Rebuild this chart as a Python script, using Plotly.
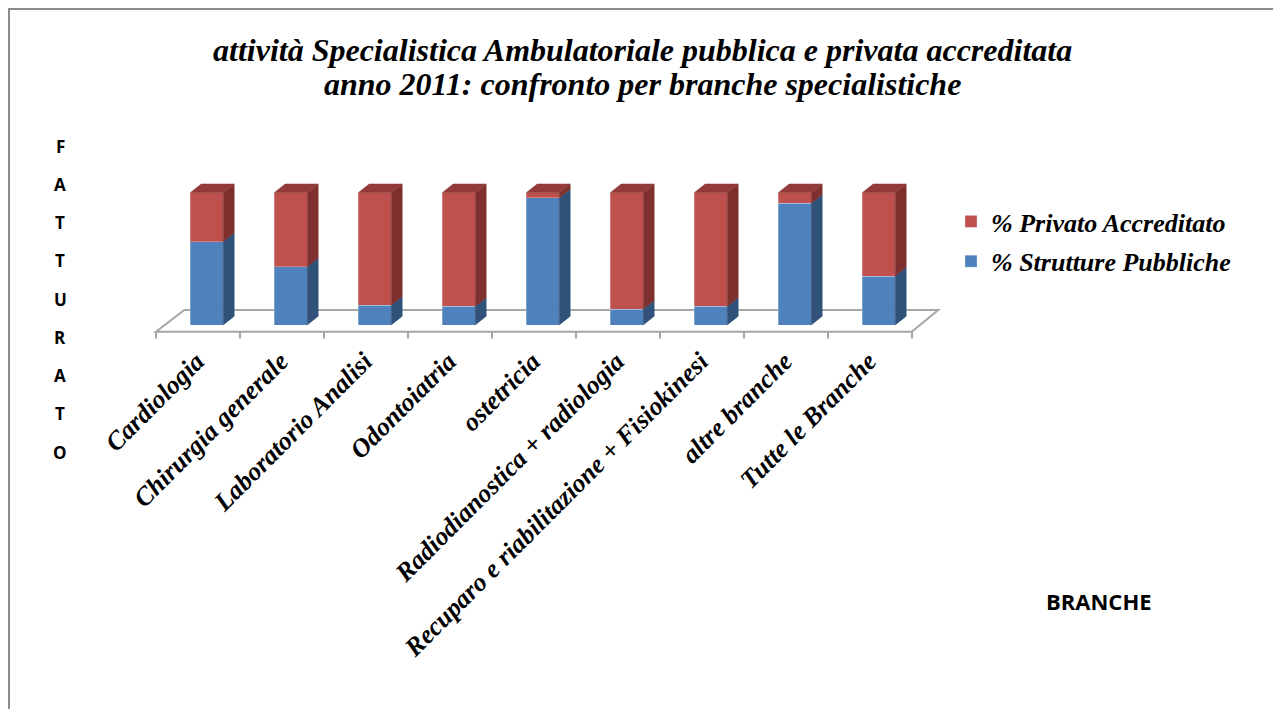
import plotly.graph_objects as go

categories = ["Cardiologia", "Chirurgia generale", "Laboratorio Analisi", "Odontoiatria",
              "ostetricia", "Radiodianostica + radiologia",
              "Recuparo e riabilitazione + Fisiokinesi", "altre branche", "Tutte le Branche"]
pubbliche = [63, 44, 15, 14, 96, 12, 14, 92, 37]
privato = [100 - v for v in pubbliche]
title_lines = ["attività Specialistica Ambulatoriale pubblica e privata accreditata",
               "anno 2011: confronto per branche specialistiche"]

OFF = 8                      # page body margin
W, H = 1281 - OFF, 709 - OFF
# plot area in reference-page pixels
L, R, T, B = 140, 960, 150, 340
X0 = 206.7   # pixel of category 0 centre
SX = 84.0    # px per category
Y0 = 325.0   # pixel of value 0
SY = 1.323   # px per percent

def xr(px):
    return (px - X0) / SX

def yr(py):
    return (Y0 - py) / SY

def px2paper(px):
    return (px - L) / (R - L)

def py2paper(py):
    return (B - py) / (B - T)

n = len(categories)
w = 0.393
dx, dy = 0.131, 6.6

BLUE, RED = "#4F81BD", "#C0504D"
BLUE_SIDE, RED_SIDE, RED_TOP = "#30527A", "#7E302E", "#923B38"

fig = go.Figure()
xs = list(range(n))
fig.add_trace(go.Bar(x=xs, y=pubbliche, name="% Strutture Pubbliche", width=w,
                     marker=dict(color=BLUE, line=dict(color="rgba(255,255,255,0.45)", width=0.6)),
                     legendgroup="a", legendrank=2))
fig.add_trace(go.Bar(x=xs, y=privato, name="% Privato Accreditato", width=w,
                     marker=dict(color=RED, line=dict(color="rgba(255,255,255,0.45)", width=0.6)),
                     legendgroup="b", legendrank=1))

def side_polys(bottoms, tops):
    px_, py_ = [], []
    for i in range(n):
        xe = i + w / 2
        b, t = bottoms[i], tops[i]
        px_ += [xe, xe + dx, xe + dx, xe, xe, None]
        py_ += [b, b + dy, t + dy, t, b, None]
    return px_, py_

bx, by = side_polys([0] * n, pubbliche)
fig.add_trace(go.Scatter(x=bx, y=by, fill="toself", fillcolor=BLUE_SIDE, mode="lines",
                         line=dict(width=0.5, color=BLUE_SIDE), showlegend=False, hoverinfo="skip"))
tops = [a + b for a, b in zip(pubbliche, privato)]
rx, ry = side_polys(pubbliche, tops)
fig.add_trace(go.Scatter(x=rx, y=ry, fill="toself", fillcolor=RED_SIDE, mode="lines",
                         line=dict(width=0.5, color=RED_SIDE), showlegend=False, hoverinfo="skip"))
tx, ty = [], []
for i in range(n):
    t = tops[i]
    tx += [i - w / 2, i - w / 2 + dx, i + w / 2 + dx, i + w / 2, i - w / 2, None]
    ty += [t, t + dy, t + dy, t, t, None]
fig.add_trace(go.Scatter(x=tx, y=ty, fill="toself", fillcolor=RED_TOP, mode="lines",
                         line=dict(width=0.5, color=RED_TOP), showlegend=False, hoverinfo="skip"))

# floor
fl, fr = xr(156), xr(911.7)
bl, br = xr(184.3), xr(938.3)
fy, by_ = yr(331.7), yr(310)
shapes = [dict(type="path", xref="x", yref="y", layer="below",
               path=f"M{fl},{fy} L{fr},{fy} L{br},{by_} L{bl},{by_} Z",
               line=dict(color="#A6A6A6", width=2), fillcolor="white")]
for k in range(n + 1):
    shapes.append(dict(type="line", xref="x", yref="y", layer="below",
                       x0=fl + k, x1=fl + k, y0=fy, y1=yr(338.5),
                       line=dict(color="#A6A6A6", width=2)))
# outer frame (as close to the page edge as the body margin allows)
shapes.append(dict(type="rect", xref="paper", yref="paper",
                   x0=px2paper(OFF + 1), x1=px2paper(1279), y0=py2paper(OFF + 1), y1=py2paper(760),
                   line=dict(color="#8C8C8C", width=2), fillcolor="rgba(0,0,0,0)"))

serif = "Liberation Serif"
annotations = []
for k, (txt, yc) in enumerate(zip(title_lines, [50, 84])):
    annotations.append(dict(text=txt, x=px2paper(642), y=py2paper(yc),
                            xref="paper", yref="paper", showarrow=False,
                            xanchor="center", yanchor="middle",
                            font=dict(family=serif, size=32, color="black",
                                      weight="bold", style="italic")))
for k, ch in enumerate("FATTURATO"):
    annotations.append(dict(text=ch, x=px2paper(60), y=py2paper(146 + 38.25 * k),
                            xref="paper", yref="paper", showarrow=False,
                            xanchor="center", yanchor="middle",
                            font=dict(family="Open Sans", size=17, color="black", weight="bold")))
annotations.append(dict(text="BRANCHE", x=px2paper(1099), y=py2paper(601),
                        xref="paper", yref="paper", showarrow=False,
                        xanchor="center", yanchor="middle",
                        font=dict(family="Open Sans", size=22, color="black", weight="bold")))

fig.update_layout(
    width=W, height=H,
    margin=dict(l=L - OFF, r=W - (R - OFF), t=T - OFF, b=H - (B - OFF)),
    barmode="stack",
    paper_bgcolor="white", plot_bgcolor="white",
    xaxis=dict(range=[xr(L), xr(R)], showgrid=False, zeroline=False, showline=False,
               tickmode="array", tickvals=[i - 0.12 for i in xs],
               ticktext=categories,
               tickangle=-45, ticks="",
               tickfont=dict(family=serif, size=26, color="black", weight="bold", style="italic")),
    yaxis=dict(range=[yr(B), yr(T)], showgrid=False, zeroline=False, showline=False,
               showticklabels=False, ticks=""),
    legend=dict(x=px2paper(951), y=py2paper(198), xanchor="left", yanchor="top",
                traceorder="grouped", tracegroupgap=3,
                font=dict(family=serif, size=26, color="black", weight="bold", style="italic"),
                bgcolor="rgba(0,0,0,0)"),
    shapes=shapes, annotations=annotations,
    showlegend=True,
)
fig.write_html("out.html")
